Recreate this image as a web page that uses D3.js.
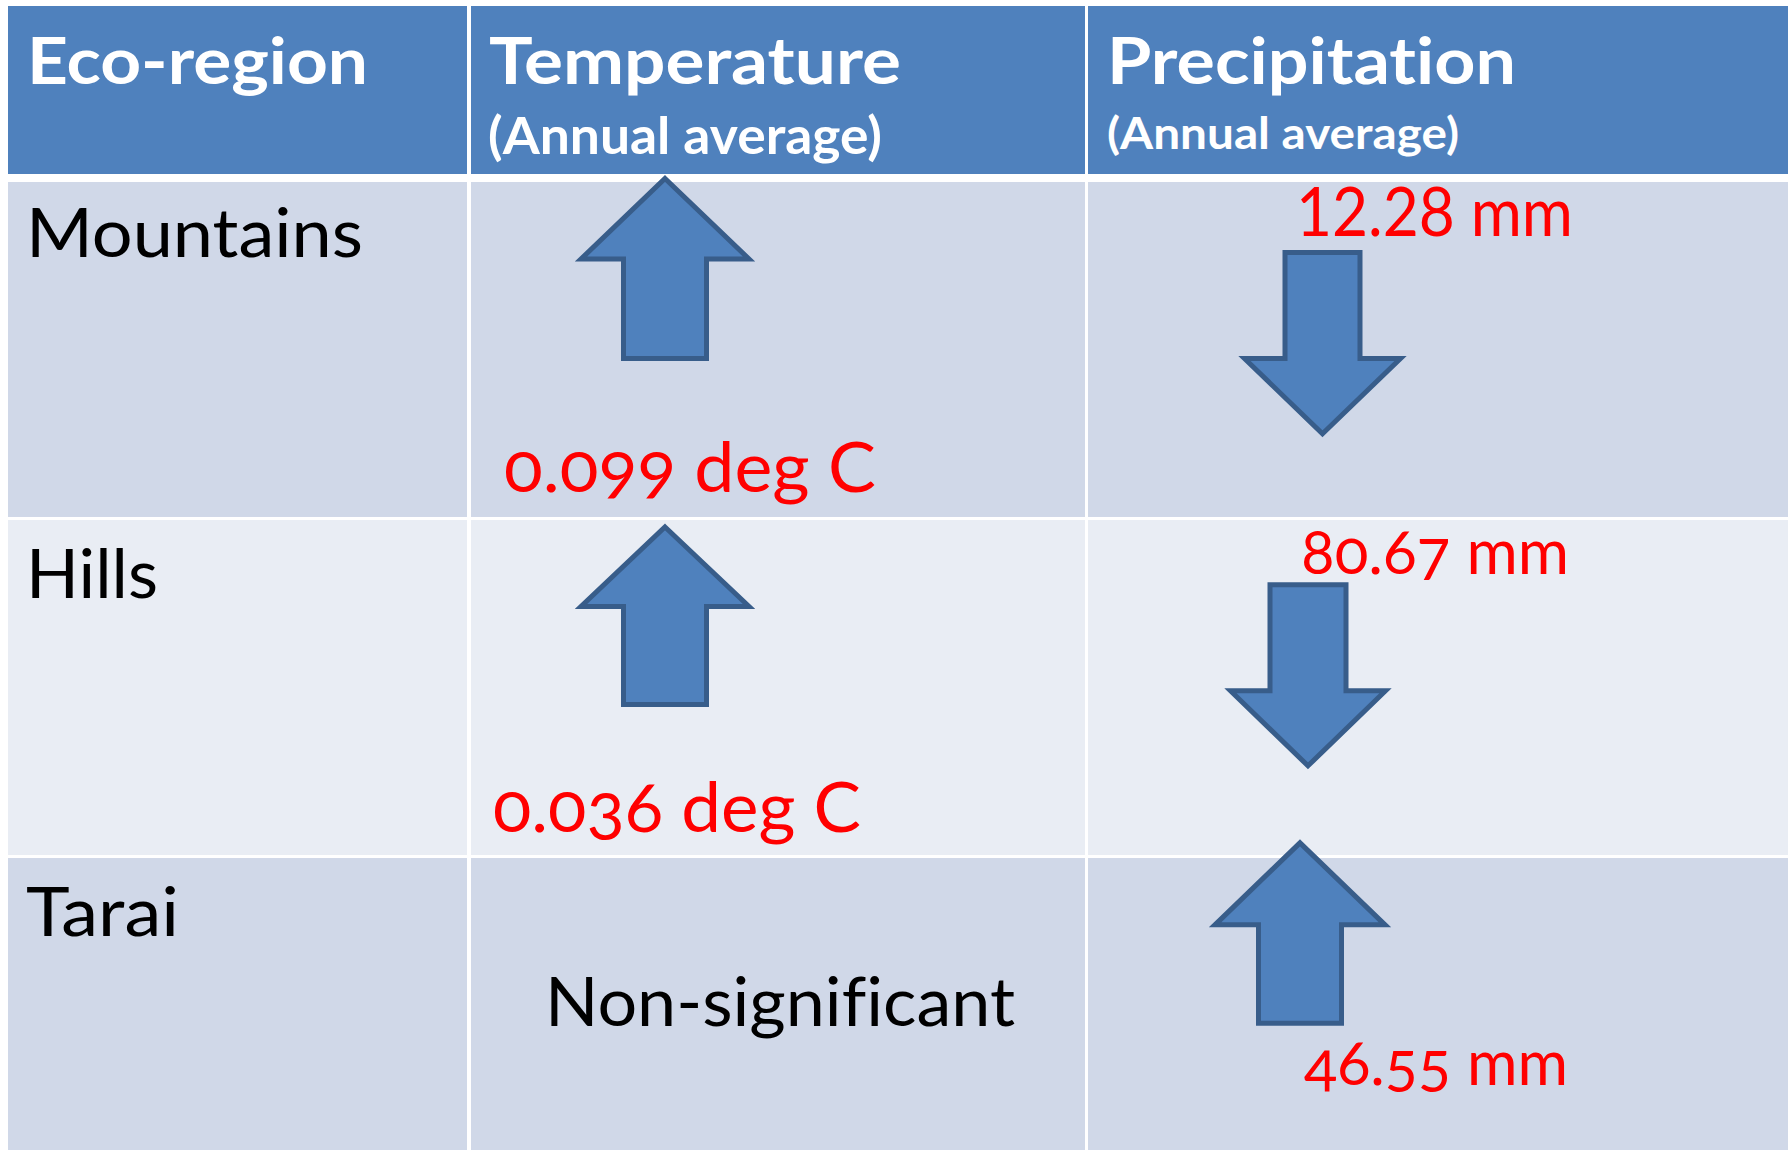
<!DOCTYPE html>
<html>
<head>
<meta charset="utf-8">
<script src="https://cdn.jsdelivr.net/npm/d3@7"></script>
<style>
  html, body { margin: 0; padding: 0; background: #ffffff; }
  svg { display: block; }
  text { font-family: Lato, "Open Sans", "Noto Sans", sans-serif; font-variant-ligatures: none; }
</style>
</head>
<body>
<svg id="chart" width="1788" height="1150"></svg>
<script>
// ---- Data -------------------------------------------------------------
// Eco-regions (table rows)
const regions = ["Mountains", "Hills", "Tarai"];
// Column headings
const headings = ["Eco-region", "Temperature", "Precipitation"];
const subHeadings = ["", "(Annual average)", "(Annual average)"];
// Trend in annual average temperature, deg C (null = non-significant)
const tempTrend = [0.099, 0.036, null];
// Trend in annual average precipitation, mm (negative = decrease)
const precipTrend = [-12.28, -80.67, 46.55];
const tempUnit = "deg C";
const precipUnit = "mm";
const nonSignificantText = "Non-significant";

// ---- Layout -----------------------------------------------------------
const W = 1788, H = 1150;
const svg = d3.select("#chart");

const C = {
  header: "#4F81BD",
  band1: "#D0D8E8",
  band2: "#E9EDF4",
  arrowFill: "#4F81BD",
  arrowStroke: "#385D8A",
  red: "#FF0000"
};

// Column extents
const colStart = d3.scaleOrdinal().domain(headings).range([8, 471, 1088]);
const colEnd = d3.scaleOrdinal().domain(headings).range([467, 1085, W]);
// Row bands for the body (last row runs past the bottom edge)
const rowY = d3.scaleBand().domain(regions).range([182, 1193]).paddingInner(0.009);
const headerY0 = 6, headerY1 = 174;

const CAP = 0.7165;   // cap height / em of the text face

// ---- Cells ------------------------------------------------------------
// header cells
svg.append("g").selectAll("rect")
  .data(headings)
  .join("rect")
  .attr("x", d => colStart(d))
  .attr("y", headerY0)
  .attr("width", d => colEnd(d) - colStart(d))
  .attr("height", headerY1 - headerY0)
  .attr("fill", C.header);

// body cells, banded
const cells = [];
regions.forEach((r, i) => headings.forEach(h => cells.push({ r, i, h })));
svg.append("g").selectAll("rect")
  .data(cells)
  .join("rect")
  .attr("x", d => colStart(d.h))
  .attr("y", d => rowY(d.r))
  .attr("width", d => colEnd(d.h) - colStart(d.h))
  .attr("height", rowY.bandwidth())
  .attr("fill", d => d.i % 2 === 0 ? C.band1 : C.band2);

// ---- Text helpers -----------------------------------------------------
function label(g, txt, o) {
  const t = g.append("text")
    .attr("x", o.x)
    .attr("y", o.y)
    .attr("fill", o.fill || "#000")
    .attr("font-weight", o.bold ? 700 : 400)
    .attr("text-anchor", o.anchor || "start")
    .style("font-size", (o.cap / CAP).toFixed(2) + "px")
    .text(txt);
  if (o.oldstyle) t.style("font-variant-numeric", "oldstyle-nums");
  if (o.width) t.attr("textLength", o.width).attr("lengthAdjust", "spacingAndGlyphs");
  return t;
}

// ---- Header text ------------------------------------------------------
const headG = svg.append("g");
const headLayout = [
  { dx: 19, w: 341, sub: null },
  { dx: 18, w: 412, sub: { dx: 17, y: 154, cap: 37, w: 394 } },
  { dx: 19, w: 409, sub: { dx: 19, y: 149, cap: 31, w: 352 } }
];
headings.forEach((h, k) => {
  const L = headLayout[k];
  label(headG, h, { x: colStart(h) + L.dx, y: 84, cap: 47, bold: true, fill: "#fff", width: L.w });
  if (subHeadings[k]) {
    label(headG, subHeadings[k], {
      x: colStart(h) + L.sub.dx, y: L.sub.y, cap: L.sub.cap, bold: true, fill: "#fff", width: L.sub.w
    });
  }
});

// ---- Region names -----------------------------------------------------
const nameLayout = [
  { dx: 18, dy: 75, w: 337 },
  { dx: 18, dy: 78, w: 132 },
  { dx: 18, dy: 78, w: 153 }
];
const nameG = svg.append("g");
regions.forEach((r, i) => {
  const L = nameLayout[i];
  label(nameG, r, { x: colStart(headings[0]) + L.dx, y: rowY(r) + L.dy, cap: 48, width: L.w });
});

// ---- Trend arrows -----------------------------------------------------
// arrow path between yTop and yBot around cx; tip at the end the trend points to
function arrowPath(cx, yTop, yBot, up, headLen, hh, sh) {
  const tip = up ? yTop : yBot;
  const tail = up ? yBot : yTop;
  const base = up ? yTop + headLen : yBot - headLen;
  return d3.line()([
    [cx, tip], [cx + hh, base], [cx + sh, base], [cx + sh, tail],
    [cx - sh, tail], [cx - sh, base], [cx - hh, base]
  ]) + "Z";
}

// arrow placement within each cell (relative to the cell's top-left corner)
const tempArrowLayout = [
  { dx: 194, top: -3.5, bot: 176.5, head: 80.5, hh: 84, sh: 41.5 },
  { dx: 194, top: 7, bot: 184.5, head: 79.5, hh: 84, sh: 41.5 },
  null
];
const precipArrowLayout = [
  { dx: 234.5, top: 70.5, bot: 251.8, head: 75.3, hh: 78, sh: 37.5 },
  { dx: 220, top: 64.8, bot: 245.8, head: 75, hh: 77.5, sh: 38 },
  { dx: 212, top: -15.2, bot: 165.2, head: 82, hh: 85, sh: 41.5 }
];

const arrows = [];
regions.forEach((r, i) => {
  if (tempTrend[i] !== null) arrows.push({ r, col: headings[1], v: tempTrend[i], L: tempArrowLayout[i] });
  if (precipTrend[i] !== null) arrows.push({ r, col: headings[2], v: precipTrend[i], L: precipArrowLayout[i] });
});

svg.append("g").selectAll("path")
  .data(arrows)
  .join("path")
  .attr("d", d => {
    const x0 = colStart(d.col), y0 = rowY(d.r);
    return arrowPath(x0 + d.L.dx, y0 + d.L.top, y0 + d.L.bot, d.v > 0, d.L.head, d.L.hh, d.L.sh);
  })
  .attr("fill", C.arrowFill)
  .attr("stroke", C.arrowStroke)
  .attr("stroke-width", 5)
  .attr("stroke-linejoin", "miter")
  .attr("stroke-miterlimit", 10);

// ---- Value labels -----------------------------------------------------
const valG = svg.append("g");
const tempLabelLayout = [
  { dx: 33, dy: 310, cap: 50, w: 372 },
  { dx: 22, dy: 312, cap: 50, w: 368 },
  { dx: 309, dy: 168, cap: 49, w: 470, anchor: "middle" }
];
const precipLabelLayout = [
  { dx: 208, dy: 54, cap: 48, w: 277, lining: true },
  { dx: 213, dy: 54, cap: 45, w: 268 },
  { dx: 216, dy: 227, cap: 45, w: 264 }
];
const fmtTemp = d3.format(".3f");
const fmtPrecip = d3.format(".2f");

regions.forEach((r, i) => {
  const y0 = rowY(r);
  const tL = tempLabelLayout[i];
  const tv = tempTrend[i];
  if (tv === null) {
    label(valG, nonSignificantText, {
      x: colStart(headings[1]) + tL.dx, y: y0 + tL.dy, cap: tL.cap, width: tL.w, anchor: "middle"
    });
  } else {
    label(valG, fmtTemp(Math.abs(tv)) + " " + tempUnit, {
      x: colStart(headings[1]) + tL.dx, y: y0 + tL.dy, cap: tL.cap, width: tL.w,
      fill: C.red, oldstyle: true
    });
  }
  const pL = precipLabelLayout[i];
  label(valG, fmtPrecip(Math.abs(precipTrend[i])) + " " + precipUnit, {
    x: colStart(headings[2]) + pL.dx, y: y0 + pL.dy, cap: pL.cap, width: pL.w,
    fill: C.red, oldstyle: !pL.lining
  });
});
</script>
</body>
</html>
